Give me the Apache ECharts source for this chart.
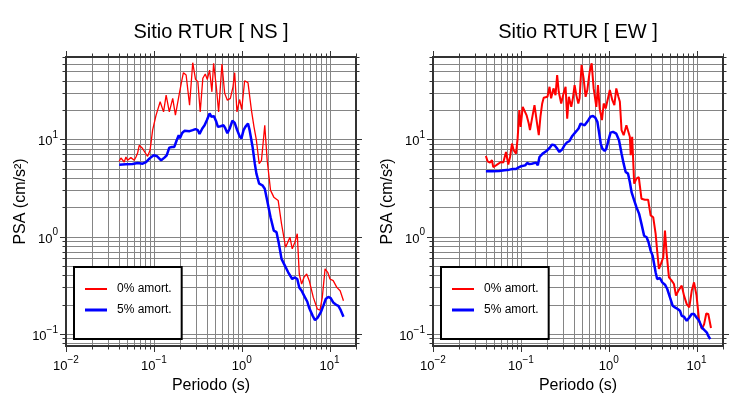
<!DOCTYPE html>
<html><head><meta charset="utf-8">
<script src="https://cdn.jsdelivr.net/npm/echarts@6/dist/echarts.min.js"></script>
<style>html,body{margin:0;padding:0;background:#fff}#c{width:730px;height:400px}</style>
</head><body><div id="c"></div>
<script>
// ---- data ----
const titles = ['Sitio RTUR [ NS ]', 'Sitio RTUR [ EW ]'];
const legendNames = ['0% amort.', '5% amort.'];
const xName = 'Periodo (s)';
const yName = 'PSA (cm/s\u00B2)';

const nsPer0 = [0.0403,0.0422,0.0440,0.0460,0.0481,0.0502,0.0525,0.0548,0.0573,0.0598,0.0626,0.0653,0.0682,0.0714,0.0745,0.0800,0.0849,0.0906,0.0968,0.106,0.118,0.129,0.138,0.150,0.164,0.176,0.192,0.205,0.217,0.233,0.255,0.277,0.298,0.317,0.337,0.361,0.385,0.406,0.431,0.458,0.479,0.514,0.546,0.596,0.640,0.687,0.743,0.796,0.832,0.883,0.948,1.00,1.08,1.18,1.29,1.38,1.47,1.58,1.68,1.83,1.95,2.13,2.32,2.60,2.84,3.16,3.33,3.54,3.76,4.03,4.29,4.52,4.81,5.11,5.49,5.87,6.53,7.26,7.79,8.27,8.89,9.53,10.1,11.0,12.1,13.2,14.4];
const nsPsa0 = [5.93,6.41,6.32,5.83,6.57,6.08,6.22,6.47,6.18,6.08,6.57,7.22,8.67,8.33,8.02,7.22,6.68,7.70,12.4,17.7,24.3,19.1,28.4,19.1,26.3,17.7,27.3,37.5,48.3,45.7,22.4,61.2,41.2,39.0,19.1,42.3,46.8,41.2,51.4,30.7,60.3,34.6,19.1,59.3,29.6,25.2,26.3,34.6,48.3,19.1,25.6,20.2,39.9,38.0,19.9,13.4,9.77,5.61,6.08,13.9,6.08,2.98,2.54,2.35,1.35,0.776,0.776,0.984,0.747,0.873,1.07,0.412,0.325,0.380,0.412,0.352,0.237,0.180,0.175,0.237,0.465,0.429,0.366,0.352,0.300,0.277,0.219];

const nsPer5 = [0.0403,0.0481,0.0573,0.0653,0.0745,0.0815,0.0889,0.0996,0.109,0.121,0.132,0.140,0.150,0.161,0.171,0.182,0.192,0.198,0.210,0.223,0.255,0.277,0.298,0.317,0.331,0.356,0.378,0.401,0.431,0.454,0.482,0.514,0.536,0.575,0.622,0.652,0.687,0.730,0.784,0.832,0.883,0.948,0.993,1.05,1.10,1.18,1.23,1.33,1.41,1.47,1.58,1.72,1.83,1.95,2.13,2.32,2.49,2.65,2.84,3.10,3.38,3.76,4.03,4.29,4.52,4.81,5.25,5.57,5.87,6.43,6.83,7.33,7.93,8.49,9.05,9.69,10.3,11.0,11.9,12.6,13.4,14.4];
const nsPsa5 = [5.48,5.52,5.56,5.70,5.61,5.83,6.32,6.84,6.68,6.08,6.47,6.84,8.20,8.33,8.33,9.77,11.0,10.2,11.6,12.2,12.1,12.4,12.7,12.4,11.3,12.9,13.9,15.7,18.4,17.0,17.3,15.1,13.4,13.6,13.9,12.9,11.5,12.9,15.5,14.7,12.6,10.7,10.2,12.4,13.4,14.5,12.4,8.33,5.61,4.43,3.49,3.36,3.10,2.35,1.58,1.15,1.11,0.841,0.589,0.502,0.429,0.366,0.380,0.366,0.300,0.277,0.237,0.215,0.184,0.153,0.138,0.147,0.166,0.194,0.228,0.240,0.233,0.210,0.199,0.194,0.175,0.150];

const ewPer0 = [0.0400,0.0418,0.0445,0.0469,0.0485,0.0521,0.0557,0.0594,0.0631,0.0678,0.0720,0.0753,0.0793,0.0828,0.0881,0.0919,0.0961,0.0995,0.105,0.110,0.116,0.123,0.127,0.134,0.143,0.152,0.160,0.167,0.175,0.182,0.191,0.201,0.212,0.221,0.235,0.248,0.259,0.270,0.288,0.306,0.323,0.337,0.352,0.375,0.391,0.409,0.428,0.451,0.466,0.491,0.518,0.546,0.571,0.607,0.640,0.674,0.723,0.755,0.789,0.838,0.877,0.924,0.966,1.03,1.10,1.16,1.22,1.29,1.34,1.40,1.48,1.59,1.66,1.74,1.78,1.85,1.95,2.07,2.20,2.36,2.58,2.81,3.00,3.21,3.42,3.56,3.73,3.93,4.18,4.37,4.57,4.85,5.21,5.53,5.83,6.20,6.78,7.20,7.73,8.27,8.81,9.36,10.0,10.7,11.5,12.2,12.9,13.6,14.6];
const ewPsa0 = [6.73,5.93,5.75,6.08,5.18,5.39,5.61,5.83,5.75,7.40,5.48,6.57,9.03,7.70,7.12,10.2,19.9,13.4,21.5,20.7,17.7,14.5,12.4,16.3,22.4,15.1,11.0,17.0,23.3,26.7,26.3,27.3,34.6,26.3,33.3,28.4,45.7,30.7,23.3,29.6,34.6,16.3,27.3,21.5,26.3,36.0,28.4,23.3,26.3,57.9,42.3,27.3,32.0,49.4,60.3,33.3,21.5,36.0,20.7,15.7,23.3,20.7,21.5,32.0,25.2,22.4,33.3,27.3,24.3,12.4,11.0,13.9,14.5,10.6,6.84,10.6,3.49,3.94,4.08,2.45,2.39,2.39,1.65,1.58,1.07,0.717,0.465,0.523,0.612,1.15,0.663,0.380,0.352,0.325,0.247,0.277,0.313,0.247,0.202,0.187,0.277,0.338,0.247,0.136,0.112,0.126,0.162,0.160,0.115];

const ewPer5 = [0.0400,0.0476,0.0568,0.0648,0.0739,0.0806,0.0881,0.0944,0.100,0.105,0.112,0.118,0.125,0.133,0.140,0.149,0.156,0.163,0.177,0.194,0.212,0.227,0.242,0.256,0.275,0.296,0.314,0.334,0.358,0.385,0.401,0.428,0.454,0.479,0.501,0.532,0.556,0.586,0.618,0.662,0.705,0.743,0.775,0.811,0.847,0.900,0.941,0.982,1.05,1.12,1.22,1.31,1.40,1.48,1.56,1.66,1.74,1.82,1.95,2.07,2.22,2.36,2.53,2.70,2.84,3.00,3.16,3.29,3.42,3.56,3.83,4.07,4.37,4.64,4.98,5.35,5.68,6.10,6.47,6.78,7.20,7.73,8.27,8.81,9.36,10.0,10.7,11.5,12.3,13.1,13.6,14.3];
const ewPsa5 = [4.68,4.68,4.71,4.79,4.87,4.94,4.94,5.14,5.27,5.11,5.39,5.70,5.56,5.61,5.48,5.75,5.39,6.57,7.12,7.52,8.13,8.81,8.67,8.13,7.40,7.88,8.67,9.25,9.60,10.8,10.6,12.1,12.9,14.5,15.1,13.9,13.7,15.7,17.0,17.3,16.6,15.1,11.9,9.03,8.02,7.57,8.02,9.38,11.7,11.9,11.4,9.77,7.12,5.61,4.60,4.43,3.63,2.86,2.35,2.00,1.71,1.35,1.02,0.984,0.873,0.717,0.637,0.523,0.429,0.366,0.375,0.338,0.320,0.289,0.237,0.194,0.187,0.180,0.173,0.153,0.150,0.136,0.147,0.160,0.160,0.147,0.136,0.116,0.109,0.103,0.0953,0.0881];

// axis ranges and tick values
const xMin = 0.01, xMax = 20, yMin = 0.075, yMax = 70;
const xTicks = [0.01,0.02,0.03,0.04,0.05,0.06,0.07,0.08,0.09,0.1,0.2,0.3,0.4,0.5,0.6,0.7,0.8,0.9,1,2,3,4,5,6,7,8,9,10,20];
const yTicks = [0.08,0.09,0.1,0.2,0.3,0.4,0.5,0.6,0.7,0.8,0.9,1,2,3,4,5,6,7,8,9,10,20,30,40,50,60,70];

// ---- chart ----
const FONT = 'Liberation Sans, Arial, Helvetica, sans-serif';
const GRID_COLOR = '#858585';
const FRAME_COLOR = '#333';
const gridLefts = [66, 433];

function isMajor(v) { const e = Math.log10(v); return Math.abs(e - Math.round(e)) < 1e-6; }
function powLabel(v) {
  if (!isMajor(v)) return '';
  const r = Math.round(Math.log10(v));
  return '{b|10}{s|' + (r < 0 ? '\u2212' + (-r) : String(r)) + '}';
}
const richLabel = {
  b: { fontSize: 13, lineHeight: 18, verticalAlign: 'bottom', fontFamily: FONT, color: '#000' },
  s: { fontSize: 10, lineHeight: 10, verticalAlign: 'top', fontFamily: FONT, color: '#000' }
};

function ln(x1, y1, x2, y2, w, c) {
  return { type: 'line', shape: { x1, y1, x2, y2 }, style: { stroke: c, lineWidth: w } };
}
function vRender(params, api) {
  const v = api.value(0);
  const pb = api.coord([v, yMin]);
  const pt = api.coord([v, yMax]);
  const x = Math.round(pb[0]) + 0.5;
  const len = isMajor(v) ? 5 : 2.5;
  const ch = [];
  if (v > xMin * 1.0001 && v < xMax * 0.9999) ch.push(ln(x, pt[1] + 1, x, pb[1] - 1, 1, GRID_COLOR));
  ch.push(ln(x, pt[1] - 1, x, pt[1] - 1 - len, 1, FRAME_COLOR));
  ch.push(ln(x, pb[1] + 1, x, pb[1] + 1 + len, 1, FRAME_COLOR));
  return { type: 'group', children: ch };
}
function hRender(params, api) {
  const v = api.value(1);
  const pl = api.coord([xMin, v]);
  const pr = api.coord([xMax, v]);
  const y = Math.round(pl[1]) + 0.5;
  const len = isMajor(v) ? 5 : 2.5;
  const ch = [];
  if (v > yMin * 1.0001 && v < yMax * 0.9999) ch.push(ln(pl[0] + 1, y, pr[0] - 1, y, 1, GRID_COLOR));
  ch.push(ln(pl[0] - 1, y, pl[0] - 1 - len, y, 1, FRAME_COLOR));
  ch.push(ln(pr[0] + 1, y, pr[0] + 1 + len, y, 1, FRAME_COLOR));
  return { type: 'group', children: ch };
}
function zip(a, b) { return a.map((v, i) => [v, b[i]]); }

const panels = [
  { red: zip(nsPer0, nsPsa0), blue: zip(nsPer5, nsPsa5), redW: 1.3 },
  { red: zip(ewPer0, ewPsa0), blue: zip(ewPer5, ewPsa5), redW: 2 }
];

const option = {
  animation: false,
  backgroundColor: '#fff',
  title: titles.map((t, i) => ({
    text: t, left: gridLefts[i] + 145, top: 22, textAlign: 'center', padding: 0,
    textStyle: { fontSize: 20, fontWeight: 'normal', color: '#000', fontFamily: FONT }
  })),
  legend: [0, 1].map(i => ({
    left: gridLefts[i] + 8, top: 267, orient: 'vertical',
    data: [
      { name: legendNames[0], icon: 'path://M0,0H22V2H0Z' },
      { name: legendNames[1], icon: 'path://M0,0H22V3H0Z' }
    ],
    symbolKeepAspect: true,
    itemWidth: 22, itemHeight: 14, itemGap: 9,
    padding: [16, 10, 23, 11], borderColor: '#000', borderWidth: 2, backgroundColor: '#fff',
    textStyle: { fontSize: 12, color: '#000', fontFamily: FONT, padding: [0, 0, 0, 5] },
    selectedMode: false
  })),
  grid: gridLefts.map(l => ({
    left: l, top: 57, width: 290, height: 289, show: true,
    borderColor: FRAME_COLOR, borderWidth: 2, backgroundColor: 'transparent'
  })),
  xAxis: [0, 1].map(i => ({
    type: 'log', logBase: 10, gridIndex: i, min: xMin, max: xMax,
    name: xName, nameLocation: 'middle', nameGap: 25,
    nameTextStyle: { fontSize: 16, color: '#000', fontFamily: FONT },
    axisLine: { show: false }, axisTick: { show: false }, splitLine: { show: false },
    axisLabel: { formatter: powLabel, rich: richLabel, margin: 9, showMinLabel: true, showMaxLabel: true, hideOverlap: false }
  })),
  yAxis: [0, 1].map(i => ({
    type: 'log', logBase: 10, gridIndex: i, min: yMin, max: yMax,
    name: yName, nameLocation: 'middle', nameGap: 34,
    nameTextStyle: { fontSize: 16, color: '#000', fontFamily: FONT },
    axisLine: { show: false }, axisTick: { show: false }, splitLine: { show: false },
    axisLabel: { formatter: powLabel, rich: richLabel, margin: 8, showMinLabel: true, showMaxLabel: true, hideOverlap: false }
  })),
  series: []
};

panels.forEach((p, i) => {
  option.series.push({ type: 'custom', xAxisIndex: i, yAxisIndex: i, silent: true, z: 1,
    renderItem: vRender, data: xTicks.map(v => [v, yMax]) });
  option.series.push({ type: 'custom', xAxisIndex: i, yAxisIndex: i, silent: true, z: 1,
    renderItem: hRender, data: yTicks.map(v => [xMax, v]) });
  option.series.push({ type: 'line', name: legendNames[0], xAxisIndex: i, yAxisIndex: i, z: 3,
    data: p.red, symbol: 'none', showSymbol: false, color: '#ff0000',
    itemStyle: { color: '#ff0000' },
    lineStyle: { color: '#ff0000', width: p.redW } });
  option.series.push({ type: 'line', name: legendNames[1], xAxisIndex: i, yAxisIndex: i, z: 4,
    data: p.blue, symbol: 'none', showSymbol: false, color: '#0000ff',
    itemStyle: { color: '#0000ff' },
    lineStyle: { color: '#0000ff', width: 2.5 } });
});

const chart = echarts.init(document.getElementById('c'), null, { renderer: 'canvas' });
chart.setOption(option);
</script>
</body></html>
